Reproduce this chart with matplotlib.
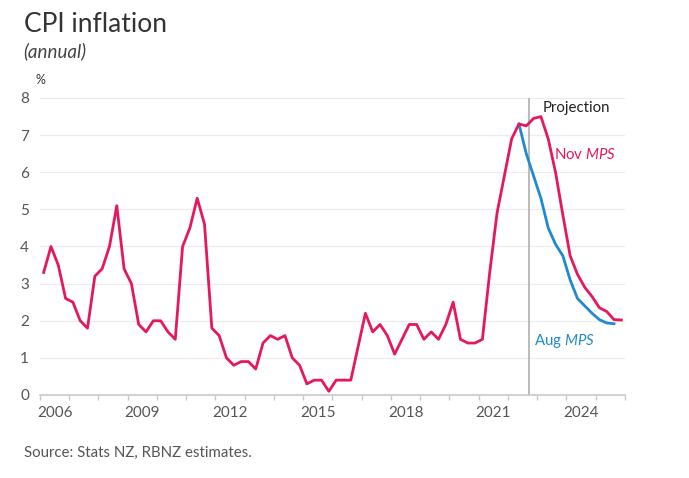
import numpy as np
import matplotlib.pyplot as plt

plt.rcParams['font.family'] = ['Lato', 'DejaVu Sans']
plt.rcParams['mathtext.fontset'] = 'custom'
plt.rcParams['mathtext.rm'] = 'Lato'
plt.rcParams['mathtext.it'] = 'Lato:italic'

# quarterly annual CPI inflation, 2006Q1 .. 2022Q3
start_year = 2006
actual = [3.3, 4.0, 3.5, 2.6,
          2.5, 2.0, 1.8, 3.2,
          3.4, 4.0, 5.1, 3.4,
          3.0, 1.9, 1.7, 2.0,
          2.0, 1.7, 1.5, 4.0,
          4.5, 5.3, 4.6, 1.8,
          1.6, 1.0, 0.8, 0.9,
          0.9, 0.7, 1.4, 1.6,
          1.5, 1.6, 1.0, 0.8,
          0.3, 0.4, 0.4, 0.1,
          0.4, 0.4, 0.4, 1.3,
          2.2, 1.7, 1.9, 1.6,
          1.1, 1.5, 1.9, 1.9,
          1.5, 1.7, 1.5, 1.9,
          2.5, 1.5, 1.4, 1.4,
          1.5, 3.3, 4.9, 5.9,
          6.9, 7.3, 7.25]
# Nov MPS projection, 2022Q4 .. 2025Q4
nov_mps = [7.45, 7.5, 6.9, 6.0, 4.85, 3.75, 3.25, 2.9, 2.65, 2.35, 2.25, 2.03, 2.02]
# Aug MPS projection, 2022Q3 .. 2025Q3 (starts from 2022Q2 actual)
aug_mps = [6.5, 5.9, 5.3, 4.5, 4.06, 3.75, 3.1, 2.6, 2.4, 2.2, 2.03, 1.94, 1.92]
projection_start = 2022.72
year_labels = [2006, 2009, 2012, 2015, 2018, 2021, 2024]

pink = '#e5185f'
blue = '#1f8ad0'

nov_series = actual + nov_mps
t_nov = start_year + (np.arange(len(nov_series)) + 0.5) / 4
aug_series = [actual[-2]] + aug_mps
t_aug = start_year + (np.arange(len(actual) - 2, len(actual) - 2 + len(aug_series)) + 0.5) / 4

fig = plt.figure(figsize=(6.89, 4.78), dpi=100)
ax = fig.add_axes([40 / 689, 1 - 395 / 478, 585 / 689, 297 / 478])

for y in range(1, 9):
    ax.axhline(y, color='#ececec', lw=0.9, zorder=0)
ax.axvline(projection_start, color='#b5b5b5', lw=1.3, zorder=1)

ax.plot(t_nov, nov_series, color=pink, lw=2.0, zorder=3, solid_joinstyle='round')
ax.plot(t_aug, aug_series, color=blue, lw=2.0, zorder=2, solid_joinstyle='round')

ax.set_xlim(2006, 2026)
ax.set_ylim(0, 8)
ax.set_yticks(range(0, 9))
ax.set_xticks(np.arange(2006, 2027), minor=True)
ax.set_xticks([y + 0.5 for y in year_labels])
ax.set_xticklabels([str(y) for y in year_labels])
ax.tick_params(axis='x', which='major', length=0, pad=8, labelsize=11, labelcolor='#555555')
ax.tick_params(axis='x', which='minor', length=3.5, width=1, color='#c8c8c8')
ax.tick_params(axis='y', length=0, pad=8, labelsize=11, labelcolor='#555555')

for s in ['top', 'right', 'left']:
    ax.spines[s].set_visible(False)
ax.spines['bottom'].set_color('#c8c8c8')
ax.spines['bottom'].set_linewidth(1.2)

ax.text(2023.17, 7.74, 'Projection', color='#222222', fontsize=10.8, va='center', ha='left')
ax.text(2023.58, 6.47, r'Nov $\mathit{MPS}$', color=pink, fontsize=10.8, va='center', ha='left')
ax.text(2022.89, 1.46, r'Aug $\mathit{MPS}$', color=blue, fontsize=10.8, va='center', ha='left')

fig.text(24 / 689, 1 - 32 / 478, 'CPI inflation', fontsize=19, color='#333333', va='baseline')
fig.text(23 / 689, 1 - 57 / 478, '(annual)', fontsize=13.5, style='italic', color='#444444', va='baseline')
fig.text(35 / 689, 1 - 84 / 478, '%', fontsize=9, color='#333333', va='baseline')
fig.text(24 / 689, 1 - 457 / 478, 'Source: Stats NZ, RBNZ estimates.', fontsize=10.8, color='#555555', va='baseline')

fig.savefig('out.png', dpi=100)
